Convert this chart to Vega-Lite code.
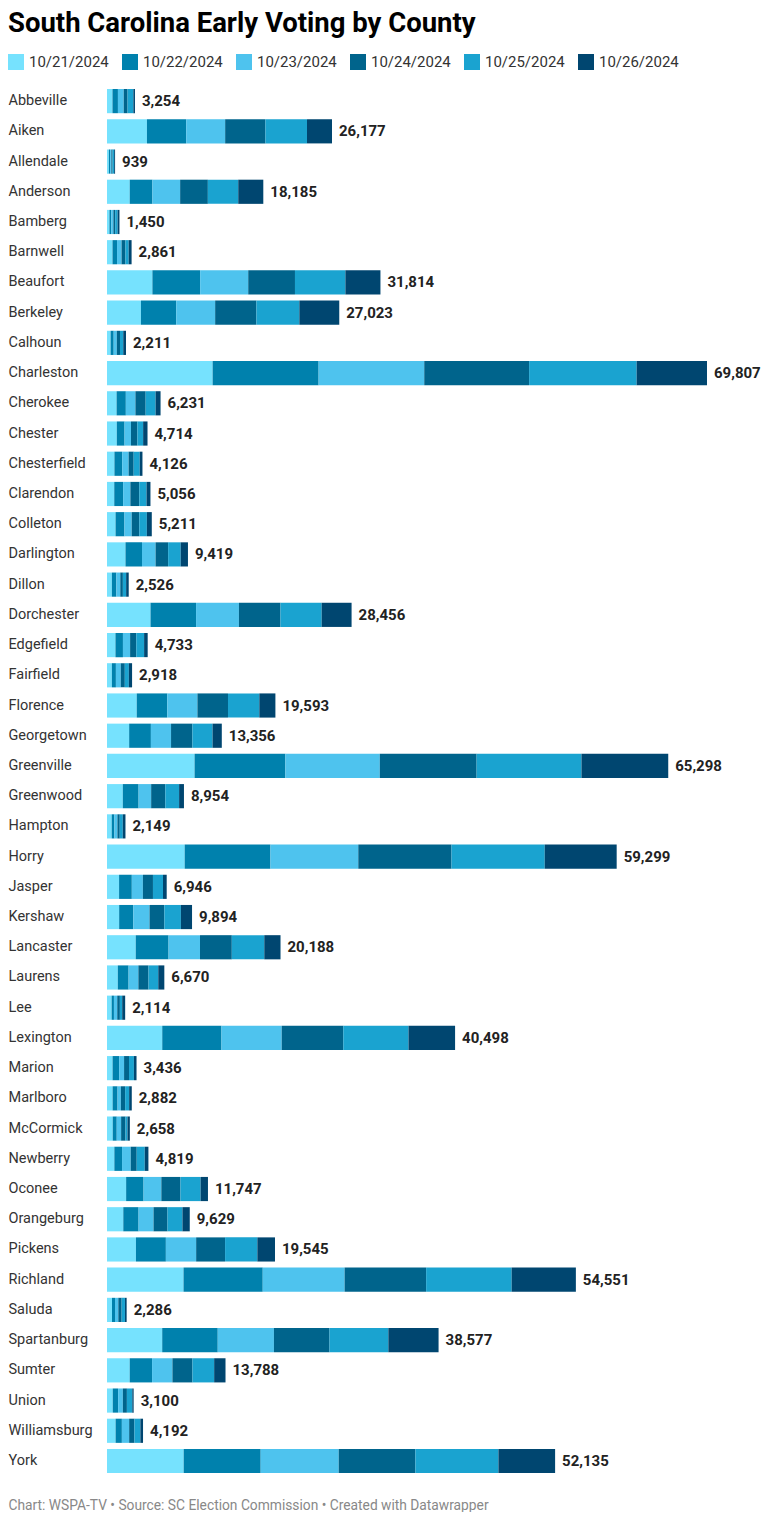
{
  "$schema": "https://vega.github.io/schema/vega-lite/v6.json",
  "padding": {"left": 8, "top": 10, "right": 0, "bottom": 0},
  "background": "white",
  "title": {"text": "South Carolina Early Voting by County", "anchor": "start", "frame": "bounds", "font": "Roboto", "fontSize": 27.5, "fontWeight": "bold", "color": "#000000", "offset": 16},
  "data": {"values": [
{"county":"Abbeville","date":"10/21/2024","votes":636},{"county":"Abbeville","date":"10/22/2024","votes":636},{"county":"Abbeville","date":"10/23/2024","votes":673},{"county":"Abbeville","date":"10/24/2024","votes":449},{"county":"Abbeville","date":"10/25/2024","votes":673},{"county":"Abbeville","date":"10/26/2024","votes":187},
{"county":"Aiken","date":"10/21/2024","votes":4647},{"county":"Aiken","date":"10/22/2024","votes":4569},{"county":"Aiken","date":"10/23/2024","votes":4531},{"county":"Aiken","date":"10/24/2024","votes":4685},{"county":"Aiken","date":"10/25/2024","votes":4840},{"county":"Aiken","date":"10/26/2024","votes":2905},
{"county":"Allendale","date":"10/21/2024","votes":217},{"county":"Allendale","date":"10/22/2024","votes":144},{"county":"Allendale","date":"10/23/2024","votes":144},{"county":"Allendale","date":"10/24/2024","votes":144},{"county":"Allendale","date":"10/25/2024","votes":181},{"county":"Allendale","date":"10/26/2024","votes":109},
{"county":"Anderson","date":"10/21/2024","votes":2642},{"county":"Anderson","date":"10/22/2024","votes":2642},{"county":"Anderson","date":"10/23/2024","votes":3225},{"county":"Anderson","date":"10/24/2024","votes":3225},{"county":"Anderson","date":"10/25/2024","votes":3536},{"county":"Anderson","date":"10/26/2024","votes":2915},
{"county":"Bamberg","date":"10/21/2024","votes":283},{"county":"Bamberg","date":"10/22/2024","votes":212},{"county":"Bamberg","date":"10/23/2024","votes":248},{"county":"Bamberg","date":"10/24/2024","votes":212},{"county":"Bamberg","date":"10/25/2024","votes":283},{"county":"Bamberg","date":"10/26/2024","votes":212},
{"county":"Barnwell","date":"10/21/2024","votes":640},{"county":"Barnwell","date":"10/22/2024","votes":527},{"county":"Barnwell","date":"10/23/2024","votes":527},{"county":"Barnwell","date":"10/24/2024","votes":452},{"county":"Barnwell","date":"10/25/2024","votes":376},{"county":"Barnwell","date":"10/26/2024","votes":339},
{"county":"Beaufort","date":"10/21/2024","votes":5283},{"county":"Beaufort","date":"10/22/2024","votes":5555},{"county":"Beaufort","date":"10/23/2024","votes":5594},{"county":"Beaufort","date":"10/24/2024","votes":5438},{"county":"Beaufort","date":"10/25/2024","votes":5866},{"county":"Beaufort","date":"10/26/2024","votes":4078},
{"county":"Berkeley","date":"10/21/2024","votes":3949},{"county":"Berkeley","date":"10/22/2024","votes":4104},{"county":"Berkeley","date":"10/23/2024","votes":4530},{"county":"Berkeley","date":"10/24/2024","votes":4801},{"county":"Berkeley","date":"10/25/2024","votes":4994},{"county":"Berkeley","date":"10/26/2024","votes":4645},
{"county":"Calhoun","date":"10/21/2024","votes":420},{"county":"Calhoun","date":"10/22/2024","votes":360},{"county":"Calhoun","date":"10/23/2024","votes":360},{"county":"Calhoun","date":"10/24/2024","votes":370},{"county":"Calhoun","date":"10/25/2024","votes":380},{"county":"Calhoun","date":"10/26/2024","votes":321},
{"county":"Charleston","date":"10/21/2024","votes":12290},{"county":"Charleston","date":"10/22/2024","votes":12330},{"county":"Charleston","date":"10/23/2024","votes":12290},{"county":"Charleston","date":"10/24/2024","votes":12200},{"county":"Charleston","date":"10/25/2024","votes":12510},{"county":"Charleston","date":"10/26/2024","votes":8187},
{"county":"Cherokee","date":"10/21/2024","votes":1115},{"county":"Cherokee","date":"10/22/2024","votes":1077},{"county":"Cherokee","date":"10/23/2024","votes":1115},{"county":"Cherokee","date":"10/24/2024","votes":1192},{"county":"Cherokee","date":"10/25/2024","votes":1154},{"county":"Cherokee","date":"10/26/2024","votes":578},
{"county":"Chester","date":"10/21/2024","votes":1139},{"county":"Chester","date":"10/22/2024","votes":904},{"county":"Chester","date":"10/23/2024","votes":746},{"county":"Chester","date":"10/24/2024","votes":746},{"county":"Chester","date":"10/25/2024","votes":668},{"county":"Chester","date":"10/26/2024","votes":511},
{"county":"Chesterfield","date":"10/21/2024","votes":864},{"county":"Chesterfield","date":"10/22/2024","votes":904},{"county":"Chesterfield","date":"10/23/2024","votes":747},{"county":"Chesterfield","date":"10/24/2024","votes":589},{"county":"Chesterfield","date":"10/25/2024","votes":707},{"county":"Chesterfield","date":"10/26/2024","votes":315},
{"county":"Clarendon","date":"10/21/2024","votes":843},{"county":"Clarendon","date":"10/22/2024","votes":1034},{"county":"Clarendon","date":"10/23/2024","votes":843},{"county":"Clarendon","date":"10/24/2024","votes":1034},{"county":"Clarendon","date":"10/25/2024","votes":843},{"county":"Clarendon","date":"10/26/2024","votes":459},
{"county":"Colleton","date":"10/21/2024","votes":996},{"county":"Colleton","date":"10/22/2024","votes":1035},{"county":"Colleton","date":"10/23/2024","votes":843},{"county":"Colleton","date":"10/24/2024","votes":881},{"county":"Colleton","date":"10/25/2024","votes":881},{"county":"Colleton","date":"10/26/2024","votes":575},
{"county":"Darlington","date":"10/21/2024","votes":2153},{"county":"Darlington","date":"10/22/2024","votes":1922},{"county":"Darlington","date":"10/23/2024","votes":1576},{"county":"Darlington","date":"10/24/2024","votes":1461},{"county":"Darlington","date":"10/25/2024","votes":1461},{"county":"Darlington","date":"10/26/2024","votes":846},
{"county":"Dillon","date":"10/21/2024","votes":566},{"county":"Dillon","date":"10/22/2024","votes":528},{"county":"Dillon","date":"10/23/2024","votes":452},{"county":"Dillon","date":"10/24/2024","votes":302},{"county":"Dillon","date":"10/25/2024","votes":377},{"county":"Dillon","date":"10/26/2024","votes":301},
{"county":"Dorchester","date":"10/21/2024","votes":5065},{"county":"Dorchester","date":"10/22/2024","votes":5297},{"county":"Dorchester","date":"10/23/2024","votes":4988},{"county":"Dorchester","date":"10/24/2024","votes":4833},{"county":"Dorchester","date":"10/25/2024","votes":4794},{"county":"Dorchester","date":"10/26/2024","votes":3479},
{"county":"Edgefield","date":"10/21/2024","votes":984},{"county":"Edgefield","date":"10/22/2024","votes":871},{"county":"Edgefield","date":"10/23/2024","votes":833},{"county":"Edgefield","date":"10/24/2024","votes":719},{"county":"Edgefield","date":"10/25/2024","votes":909},{"county":"Edgefield","date":"10/26/2024","votes":417},
{"county":"Fairfield","date":"10/21/2024","votes":565},{"county":"Fairfield","date":"10/22/2024","votes":471},{"county":"Fairfield","date":"10/23/2024","votes":565},{"county":"Fairfield","date":"10/24/2024","votes":471},{"county":"Fairfield","date":"10/25/2024","votes":471},{"county":"Fairfield","date":"10/26/2024","votes":375},
{"county":"Florence","date":"10/21/2024","votes":3460},{"county":"Florence","date":"10/22/2024","votes":3554},{"county":"Florence","date":"10/23/2024","votes":3507},{"county":"Florence","date":"10/24/2024","votes":3554},{"county":"Florence","date":"10/25/2024","votes":3647},{"county":"Florence","date":"10/26/2024","votes":1871},
{"county":"Georgetown","date":"10/21/2024","votes":2577},{"county":"Georgetown","date":"10/22/2024","votes":2531},{"county":"Georgetown","date":"10/23/2024","votes":2343},{"county":"Georgetown","date":"10/24/2024","votes":2484},{"county":"Georgetown","date":"10/25/2024","votes":2343},{"county":"Georgetown","date":"10/26/2024","votes":1078},
{"county":"Greenville","date":"10/21/2024","votes":10190},{"county":"Greenville","date":"10/22/2024","votes":10564},{"county":"Greenville","date":"10/23/2024","votes":10985},{"county":"Greenville","date":"10/24/2024","votes":11265},{"county":"Greenville","date":"10/25/2024","votes":12200},{"county":"Greenville","date":"10/26/2024","votes":10094},
{"county":"Greenwood","date":"10/21/2024","votes":1838},{"county":"Greenwood","date":"10/22/2024","votes":1838},{"county":"Greenwood","date":"10/23/2024","votes":1461},{"county":"Greenwood","date":"10/24/2024","votes":1649},{"county":"Greenwood","date":"10/25/2024","votes":1602},{"county":"Greenwood","date":"10/26/2024","votes":566},
{"county":"Hampton","date":"10/21/2024","votes":547},{"county":"Hampton","date":"10/22/2024","votes":313},{"county":"Hampton","date":"10/23/2024","votes":352},{"county":"Hampton","date":"10/24/2024","votes":273},{"county":"Hampton","date":"10/25/2024","votes":352},{"county":"Hampton","date":"10/26/2024","votes":312},
{"county":"Horry","date":"10/21/2024","votes":9038},{"county":"Horry","date":"10/22/2024","votes":9981},{"county":"Horry","date":"10/23/2024","votes":10217},{"county":"Horry","date":"10/24/2024","votes":10846},{"county":"Horry","date":"10/25/2024","votes":10846},{"county":"Horry","date":"10/26/2024","votes":8371},
{"county":"Jasper","date":"10/21/2024","votes":1405},{"county":"Jasper","date":"10/22/2024","votes":1483},{"county":"Jasper","date":"10/23/2024","votes":1288},{"county":"Jasper","date":"10/24/2024","votes":1171},{"county":"Jasper","date":"10/25/2024","votes":1171},{"county":"Jasper","date":"10/26/2024","votes":428},
{"county":"Kershaw","date":"10/21/2024","votes":1413},{"county":"Kershaw","date":"10/22/2024","votes":1649},{"county":"Kershaw","date":"10/23/2024","votes":1885},{"county":"Kershaw","date":"10/24/2024","votes":1727},{"county":"Kershaw","date":"10/25/2024","votes":1924},{"county":"Kershaw","date":"10/26/2024","votes":1296},
{"county":"Lancaster","date":"10/21/2024","votes":3345},{"county":"Lancaster","date":"10/22/2024","votes":3817},{"county":"Lancaster","date":"10/23/2024","votes":3660},{"county":"Lancaster","date":"10/24/2024","votes":3699},{"county":"Lancaster","date":"10/25/2024","votes":3778},{"county":"Lancaster","date":"10/26/2024","votes":1889},
{"county":"Laurens","date":"10/21/2024","votes":1256},{"county":"Laurens","date":"10/22/2024","votes":1256},{"county":"Laurens","date":"10/23/2024","votes":1138},{"county":"Laurens","date":"10/24/2024","votes":1177},{"county":"Laurens","date":"10/25/2024","votes":1138},{"county":"Laurens","date":"10/26/2024","votes":705},
{"county":"Lee","date":"10/21/2024","votes":538},{"county":"Lee","date":"10/22/2024","votes":269},{"county":"Lee","date":"10/23/2024","votes":384},{"county":"Lee","date":"10/24/2024","votes":308},{"county":"Lee","date":"10/25/2024","votes":269},{"county":"Lee","date":"10/26/2024","votes":346},
{"county":"Lexington","date":"10/21/2024","votes":6427},{"county":"Lexington","date":"10/22/2024","votes":6892},{"county":"Lexington","date":"10/23/2024","votes":7008},{"county":"Lexington","date":"10/24/2024","votes":7163},{"county":"Lexington","date":"10/25/2024","votes":7589},{"county":"Lexington","date":"10/26/2024","votes":5419},
{"county":"Marion","date":"10/21/2024","votes":649},{"county":"Marion","date":"10/22/2024","votes":764},{"county":"Marion","date":"10/23/2024","votes":573},{"county":"Marion","date":"10/24/2024","votes":573},{"county":"Marion","date":"10/25/2024","votes":573},{"county":"Marion","date":"10/26/2024","votes":304},
{"county":"Marlboro","date":"10/21/2024","votes":653},{"county":"Marlboro","date":"10/22/2024","votes":576},{"county":"Marlboro","date":"10/23/2024","votes":384},{"county":"Marlboro","date":"10/24/2024","votes":500},{"county":"Marlboro","date":"10/25/2024","votes":461},{"county":"Marlboro","date":"10/26/2024","votes":308},
{"county":"McCormick","date":"10/21/2024","votes":665},{"county":"McCormick","date":"10/22/2024","votes":469},{"county":"McCormick","date":"10/23/2024","votes":508},{"county":"McCormick","date":"10/24/2024","votes":508},{"county":"McCormick","date":"10/25/2024","votes":235},{"county":"McCormick","date":"10/26/2024","votes":273},
{"county":"Newberry","date":"10/21/2024","votes":855},{"county":"Newberry","date":"10/22/2024","votes":894},{"county":"Newberry","date":"10/23/2024","votes":1010},{"county":"Newberry","date":"10/24/2024","votes":700},{"county":"Newberry","date":"10/25/2024","votes":933},{"county":"Newberry","date":"10/26/2024","votes":427},
{"county":"Oconee","date":"10/21/2024","votes":2225},{"county":"Oconee","date":"10/22/2024","votes":2029},{"county":"Oconee","date":"10/23/2024","votes":2068},{"county":"Oconee","date":"10/24/2024","votes":2225},{"county":"Oconee","date":"10/25/2024","votes":2342},{"county":"Oconee","date":"10/26/2024","votes":858},
{"county":"Orangeburg","date":"10/21/2024","votes":1895},{"county":"Orangeburg","date":"10/22/2024","votes":1779},{"county":"Orangeburg","date":"10/23/2024","votes":1740},{"county":"Orangeburg","date":"10/24/2024","votes":1624},{"county":"Orangeburg","date":"10/25/2024","votes":1740},{"county":"Orangeburg","date":"10/26/2024","votes":851},
{"county":"Pickens","date":"10/21/2024","votes":3367},{"county":"Pickens","date":"10/22/2024","votes":3483},{"county":"Pickens","date":"10/23/2024","votes":3522},{"county":"Pickens","date":"10/24/2024","votes":3367},{"county":"Pickens","date":"10/25/2024","votes":3754},{"county":"Pickens","date":"10/26/2024","votes":2052},
{"county":"Richland","date":"10/21/2024","votes":8905},{"county":"Richland","date":"10/22/2024","votes":9215},{"county":"Richland","date":"10/23/2024","votes":9524},{"county":"Richland","date":"10/24/2024","votes":9486},{"county":"Richland","date":"10/25/2024","votes":9950},{"county":"Richland","date":"10/26/2024","votes":7471},
{"county":"Saluda","date":"10/21/2024","votes":581},{"county":"Saluda","date":"10/22/2024","votes":349},{"county":"Saluda","date":"10/23/2024","votes":387},{"county":"Saluda","date":"10/24/2024","votes":387},{"county":"Saluda","date":"10/25/2024","votes":387},{"county":"Saluda","date":"10/26/2024","votes":195},
{"county":"Spartanburg","date":"10/21/2024","votes":6423},{"county":"Spartanburg","date":"10/22/2024","votes":6462},{"county":"Spartanburg","date":"10/23/2024","votes":6539},{"county":"Spartanburg","date":"10/24/2024","votes":6462},{"county":"Spartanburg","date":"10/25/2024","votes":6849},{"county":"Spartanburg","date":"10/26/2024","votes":5842},
{"county":"Sumter","date":"10/21/2024","votes":2641},{"county":"Sumter","date":"10/22/2024","votes":2602},{"county":"Sumter","date":"10/23/2024","votes":2369},{"county":"Sumter","date":"10/24/2024","votes":2330},{"county":"Sumter","date":"10/25/2024","votes":2525},{"county":"Sumter","date":"10/26/2024","votes":1321},
{"county":"Union","date":"10/21/2024","votes":667},{"county":"Union","date":"10/22/2024","votes":628},{"county":"Union","date":"10/23/2024","votes":549},{"county":"Union","date":"10/24/2024","votes":471},{"county":"Union","date":"10/25/2024","votes":628},{"county":"Union","date":"10/26/2024","votes":157},
{"county":"Williamsburg","date":"10/21/2024","votes":1000},{"county":"Williamsburg","date":"10/22/2024","votes":731},{"county":"Williamsburg","date":"10/23/2024","votes":846},{"county":"Williamsburg","date":"10/24/2024","votes":615},{"county":"Williamsburg","date":"10/25/2024","votes":692},{"county":"Williamsburg","date":"10/26/2024","votes":308},
{"county":"York","date":"10/21/2024","votes":8922},{"county":"York","date":"10/22/2024","votes":8961},{"county":"York","date":"10/23/2024","votes":9077},{"county":"York","date":"10/24/2024","votes":8922},{"county":"York","date":"10/25/2024","votes":9659},{"county":"York","date":"10/26/2024","votes":6594}
  ]},
  "width": 600,
  "height": {"step": 30.22},
  "encoding": {
    "y": {"field": "county", "type": "nominal", "sort": "ascending",
      "scale": {"paddingInner": 0.2, "paddingOuter": 0.1},
      "axis": {"title": null, "domain": false, "ticks": false, "labelAlign": "left", "labelPadding": 99, "labelFont": "Roboto", "labelFontSize": 14.5, "labelColor": "#333333", "labelLimit": 200}}
  },
  "layer": [
    {
      "mark": {"type": "bar"},
      "encoding": {
        "x": {"field": "votes", "type": "quantitative", "aggregate": "sum", "stack": "zero",
          "scale": {"nice": false, "zero": true},
          "axis": {"title": "Chart: WSPA-TV • Source: SC Election Commission • Created with Datawrapper", "domain": false, "ticks": false, "labels": false, "grid": false,
            "titleAnchor": "start", "titleX": -99, "titleY": 33, "titleBaseline": "alphabetic", "titleFont": "Roboto", "titleFontSize": 13.8, "titleFontWeight": "normal", "titleColor": "#888888"}},
        "color": {"field": "date", "type": "nominal", "title": null,
          "scale": {"domain": ["10/21/2024","10/22/2024","10/23/2024","10/24/2024","10/25/2024","10/26/2024"],
                    "range": ["#76e2fe","#0081ad","#4ec3ee","#00648c","#1aa3d0","#004670"]},
          "legend": {"orient": "none", "legendX": -99, "legendY": -32, "direction": "horizontal", "columns": 6, "symbolType": "square", "symbolSize": 256, "symbolStrokeWidth": 0, "labelFont": "Roboto", "labelFontSize": 15, "labelColor": "#333333", "labelOffset": 5, "columnPadding": 13}},
        "order": {"field": "date", "sort": "ascending"}
      }
    },
    {
      "transform": [{"aggregate": [{"op": "sum", "field": "votes", "as": "total"}], "groupby": ["county"]}],
      "mark": {"type": "text", "align": "left", "baseline": "middle", "dx": 7, "font": "Roboto", "fontSize": 15, "fontWeight": "bold", "color": "#222222"},
      "encoding": {
        "x": {"field": "total", "type": "quantitative"},
        "text": {"field": "total", "type": "quantitative", "format": ","}
      }
    }
  ],
  "config": {"view": {"stroke": null}, "font": "Roboto"}
}
